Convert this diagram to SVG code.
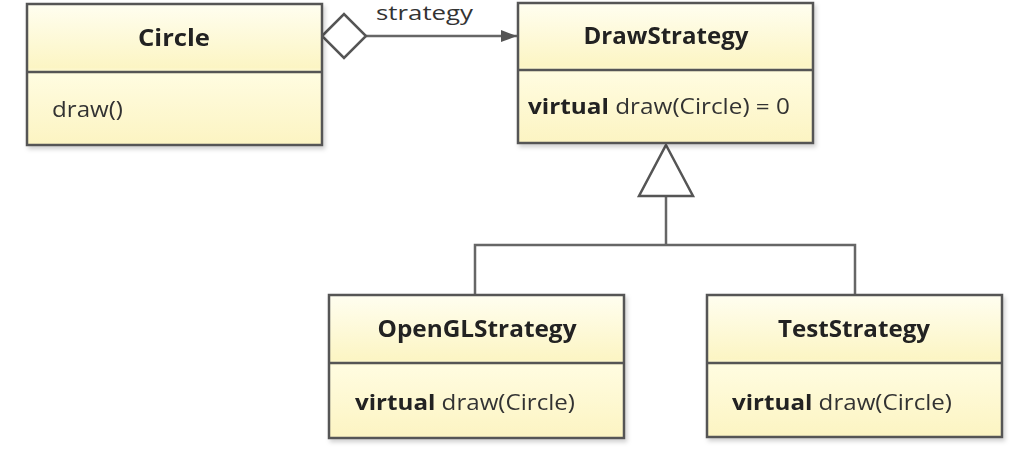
<svg xmlns="http://www.w3.org/2000/svg" width="1024" height="449" viewBox="0 0 1024 449">
<style>
.box{fill:url(#g);stroke:#555;stroke-width:2.5}
.div{stroke:#555;stroke-width:2.5}
.t{font-family:"Open Sans","Liberation Sans",sans-serif;font-weight:bold;font-size:23px;fill:#222;text-anchor:middle}
.m{font-family:"Open Sans","Liberation Sans",sans-serif;font-size:21px;fill:#333}
.m .k{font-weight:bold;fill:#222}
.c{fill:none;stroke:#666;stroke-width:2.5}
</style>
<defs>
<linearGradient id="g" x1="0" y1="0" x2="0" y2="1">
<stop offset="0" stop-color="#fffef0"/>
<stop offset="0.45" stop-color="#fcf5c4"/>
<stop offset="0.5" stop-color="#fffce0"/>
<stop offset="1" stop-color="#fcf4c2"/>
</linearGradient>
<filter id="sh" x="-5%" y="-5%" width="112%" height="115%">
<feDropShadow dx="2" dy="3" stdDeviation="2" flood-color="#000" flood-opacity="0.18"/>
</filter>
<marker id="arr" viewBox="0 0 16 12" refX="16" refY="6" markerWidth="16" markerHeight="12" markerUnits="userSpaceOnUse" orient="auto">
<path d="M0,0 L16,6 L0,12 Z" fill="#555"/>
</marker>
</defs>
<rect width="1024" height="449" fill="#fff"/>

<g id="connectors">
<path class="c" d="M366,36 L517,36" marker-end="url(#arr)"/>
<polygon points="322,36 344,14 366,36 344,58" fill="#fff" stroke="#555" stroke-width="2.5"/>
<text x="376" y="20" font-family="'Open Sans','Liberation Sans',sans-serif" font-size="20" fill="#333" textLength="97" lengthAdjust="spacingAndGlyphs">strategy</text>
<path class="c" d="M475,295 L475,245 L855,245 L855,295"/>
<path class="c" d="M666,245 L666,196"/>
<polygon points="666,145 693,196 639,196" fill="#fff" stroke="#555" stroke-width="2.5"/>
</g>

<g id="Circle" filter="url(#sh)">
<rect class="box" x="27" y="4" width="295" height="141"/>
<line class="div" x1="27" y1="72" x2="322" y2="72"/>
<text class="t" x="174" y="46" textLength="72" lengthAdjust="spacingAndGlyphs">Circle</text>
<text class="m" x="52" y="117" textLength="71" lengthAdjust="spacingAndGlyphs">draw()</text>
</g>

<g id="DrawStrategy" filter="url(#sh)">
<rect class="box" x="518" y="3" width="295" height="140"/>
<line class="div" x1="518" y1="70" x2="813" y2="70"/>
<text class="t" x="666" y="44" textLength="165" lengthAdjust="spacingAndGlyphs">DrawStrategy</text>
<text class="m" x="528" y="114" textLength="262" lengthAdjust="spacingAndGlyphs"><tspan class="k">virtual</tspan> draw(Circle) = 0</text>
</g>

<g id="OpenGLStrategy" filter="url(#sh)">
<rect class="box" x="329" y="295" width="295" height="143"/>
<line class="div" x1="329" y1="363" x2="624" y2="363"/>
<text class="t" x="477" y="337" textLength="199" lengthAdjust="spacingAndGlyphs">OpenGLStrategy</text>
<text class="m" x="355" y="410" textLength="220" lengthAdjust="spacingAndGlyphs"><tspan class="k">virtual</tspan> draw(Circle)</text>
</g>

<g id="TestStrategy" filter="url(#sh)">
<rect class="box" x="707" y="295" width="295" height="142"/>
<line class="div" x1="707" y1="363" x2="1002" y2="363"/>
<text class="t" x="854" y="337" textLength="152" lengthAdjust="spacingAndGlyphs">TestStrategy</text>
<text class="m" x="732" y="410" textLength="220" lengthAdjust="spacingAndGlyphs"><tspan class="k">virtual</tspan> draw(Circle)</text>
</g>
</svg>
